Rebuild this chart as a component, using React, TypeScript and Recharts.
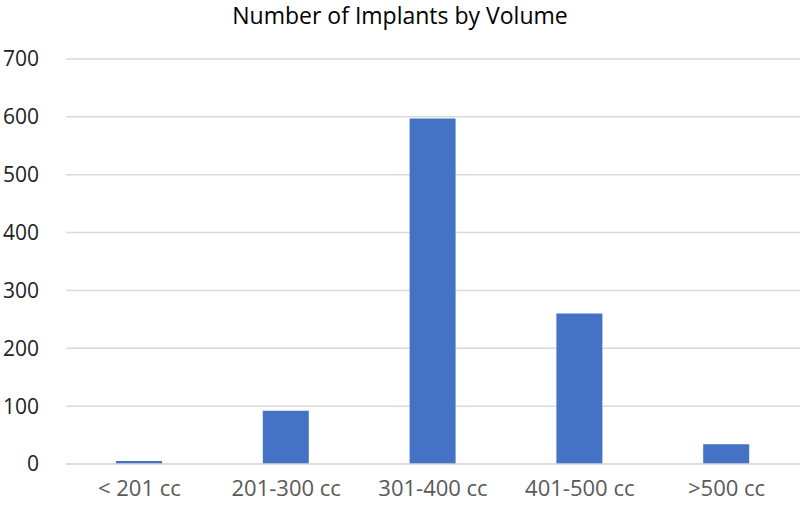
import React from "react";
import { BarChart, Bar, XAxis, YAxis, CartesianGrid } from "recharts";

const categories = ["< 201 cc", "201-300 cc", "301-400 cc", "401-500 cc", ">500 cc"];
const counts = [5, 92, 597, 260, 34];
const yTicks = [0, 100, 200, 300, 400, 500, 600, 700];
const title = "Number of Implants by Volume";

const data = categories.map((c, i) => ({ name: c, value: counts[i] }));

const font = "'Open Sans', 'Noto Sans', sans-serif";

export default function App() {
  return (
    <div style={{ position: "absolute", left: 0, top: 0, width: 800, height: 509, background: "#fff", fontFamily: font }}>
      <div style={{ position: "absolute", left: 0, top: 0, width: 800, textAlign: "center", fontSize: 23, color: "#000", lineHeight: "30px" }}>
        {title}
      </div>
      <BarChart width={800} height={509} data={data} margin={{ top: 59, right: 0, bottom: 0, left: 0 }} barSize={46}>
        <CartesianGrid vertical={false} stroke="#d9d9d9" strokeWidth={1.5} />
        <XAxis
          dataKey="name"
          axisLine={{ stroke: "#d9d9d9", strokeWidth: 1.5 }}
          tickLine={false}
          height={45}
          tickMargin={10}
          tick={{ fill: "#595959", fontSize: 22, fontFamily: font }}
        />
        <YAxis
          domain={[0, 700]}
          ticks={yTicks}
          width={66}
          axisLine={false}
          tickLine={false}
          tickMargin={21}
          tick={{ fill: "#222", fontSize: 21, fontFamily: font }}
        />
        <Bar dataKey="value" fill="#4472C4" isAnimationActive={false} />
      </BarChart>
    </div>
  );
}
